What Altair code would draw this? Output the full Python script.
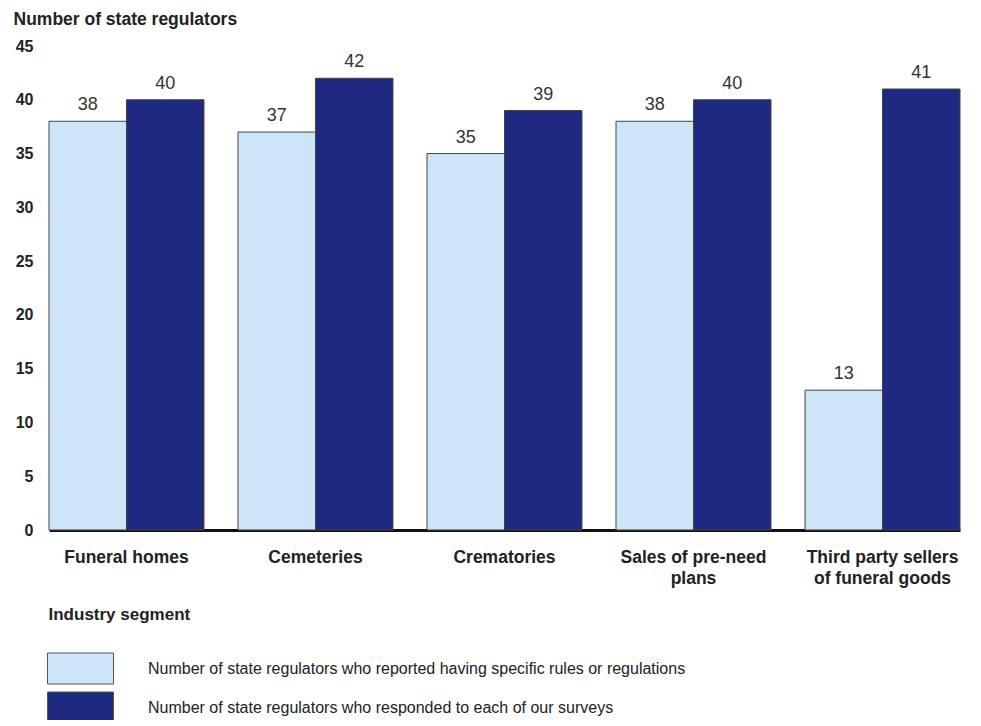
import altair as alt
import pandas as pd

categories = ["Funeral homes", "Cemeteries", "Crematories",
              "Sales of pre-need plans", "Third party sellers of funeral goods"]
series_names = [
    "Number of state regulators who reported having specific rules or regulations",
    "Number of state regulators who responded to each of our surveys",
]
reported = [38, 37, 35, 38, 13]
responded = [40, 42, 39, 40, 41]
y_ticks = [0, 5, 10, 15, 20, 25, 30, 35, 40, 45]
colors = ["#CDE6F7", "#1E2A82"]

rows = []
for i, c in enumerate(categories):
    rows.append({"segment": c, "series": series_names[0], "value": reported[i]})
    rows.append({"segment": c, "series": series_names[1], "value": responded[i]})
df = pd.DataFrame(rows)

FONT = "Liberation Sans"

label_expr = ("datum.label == 'Sales of pre-need plans' ? ['Sales of pre-need', 'plans'] : "
              "datum.label == 'Third party sellers of funeral goods' ? ['Third party sellers', 'of funeral goods'] : "
              "datum.label")

x_enc = alt.X(
    "segment:N", sort=categories,
    scale=alt.Scale(paddingInner=0.18, paddingOuter=0),
    axis=alt.Axis(
        title="Industry segment", titleFont=FONT, titleFontSize=17, titleFontWeight="bold",
        titleColor="#222", titleAnchor="start", titleAlign="left", titleX=-1, titleY=89,
        titleBaseline="alphabetic",
        labelAngle=0, labelFont=FONT, labelFontSize=17.5, labelFontWeight="bold",
        labelColor="#222", labelPadding=18, labelLineHeight=21, labelExpr=label_expr,
        ticks=False, domainColor="#111", domainWidth=3, labelLimit=300, grid=False,
    ),
)
y_enc = alt.Y("value:Q", scale=alt.Scale(domain=[0, 45], nice=False),
              axis=alt.Axis(
                  values=y_ticks, title="Number of state regulators", titleAngle=0,
                  titleAlign="left", titleX=-36, titleY=-22, titleBaseline="alphabetic",
                  titleFont=FONT, titleFontSize=17.5, titleFontWeight="bold", titleColor="#222",
                  labelFont=FONT, labelFontSize=16, labelFontWeight="bold", labelColor="#222",
                  labelPadding=16, ticks=False, domain=False, grid=False,
              ))
xoff = alt.XOffset("series:N", sort=series_names, scale=alt.Scale(paddingInner=0, paddingOuter=0))

bars = alt.Chart(df).mark_bar(stroke="#444", strokeWidth=1).encode(
    x=x_enc,
    xOffset=xoff,
    y=y_enc,
    color=alt.Color("series:N", sort=series_names,
                    scale=alt.Scale(domain=series_names, range=colors),
                    legend=alt.Legend(
                        title=None, orient="none", legendX=15.5, legendY=606.5,
                        symbolType="M-2.13,-1L2.13,-1L2.13,1L-2.13,1Z", symbolSize=961,
                        symbolStrokeColor="#555", symbolStrokeWidth=1, symbolOpacity=1,
                        labelFont=FONT, labelFontSize=16, labelColor="#222",
                        labelOffset=51.5, labelLimit=1000, rowPadding=3, padding=0,
                    )),
)

labels = alt.Chart(df).mark_text(baseline="alphabetic", dy=-11, font=FONT, fontSize=18,
                                 color="#333").encode(
    x=x_enc,
    xOffset=xoff,
    y=y_enc,
    text="value:Q",
)

chart = alt.layer(bars, labels).properties(
    width=911, height=484,
    autosize=alt.AutoSizeParams(type="none"),
    padding={"left": 41, "top": 38, "right": 12, "bottom": 190},
).configure(
    background="white",
    view=alt.ViewConfig(stroke="white", strokeWidth=2, fill="white"),
    axis=alt.AxisConfig(grid=False),
)

chart.save("out.html", embed_options={"renderer": "svg", "actions": False})
